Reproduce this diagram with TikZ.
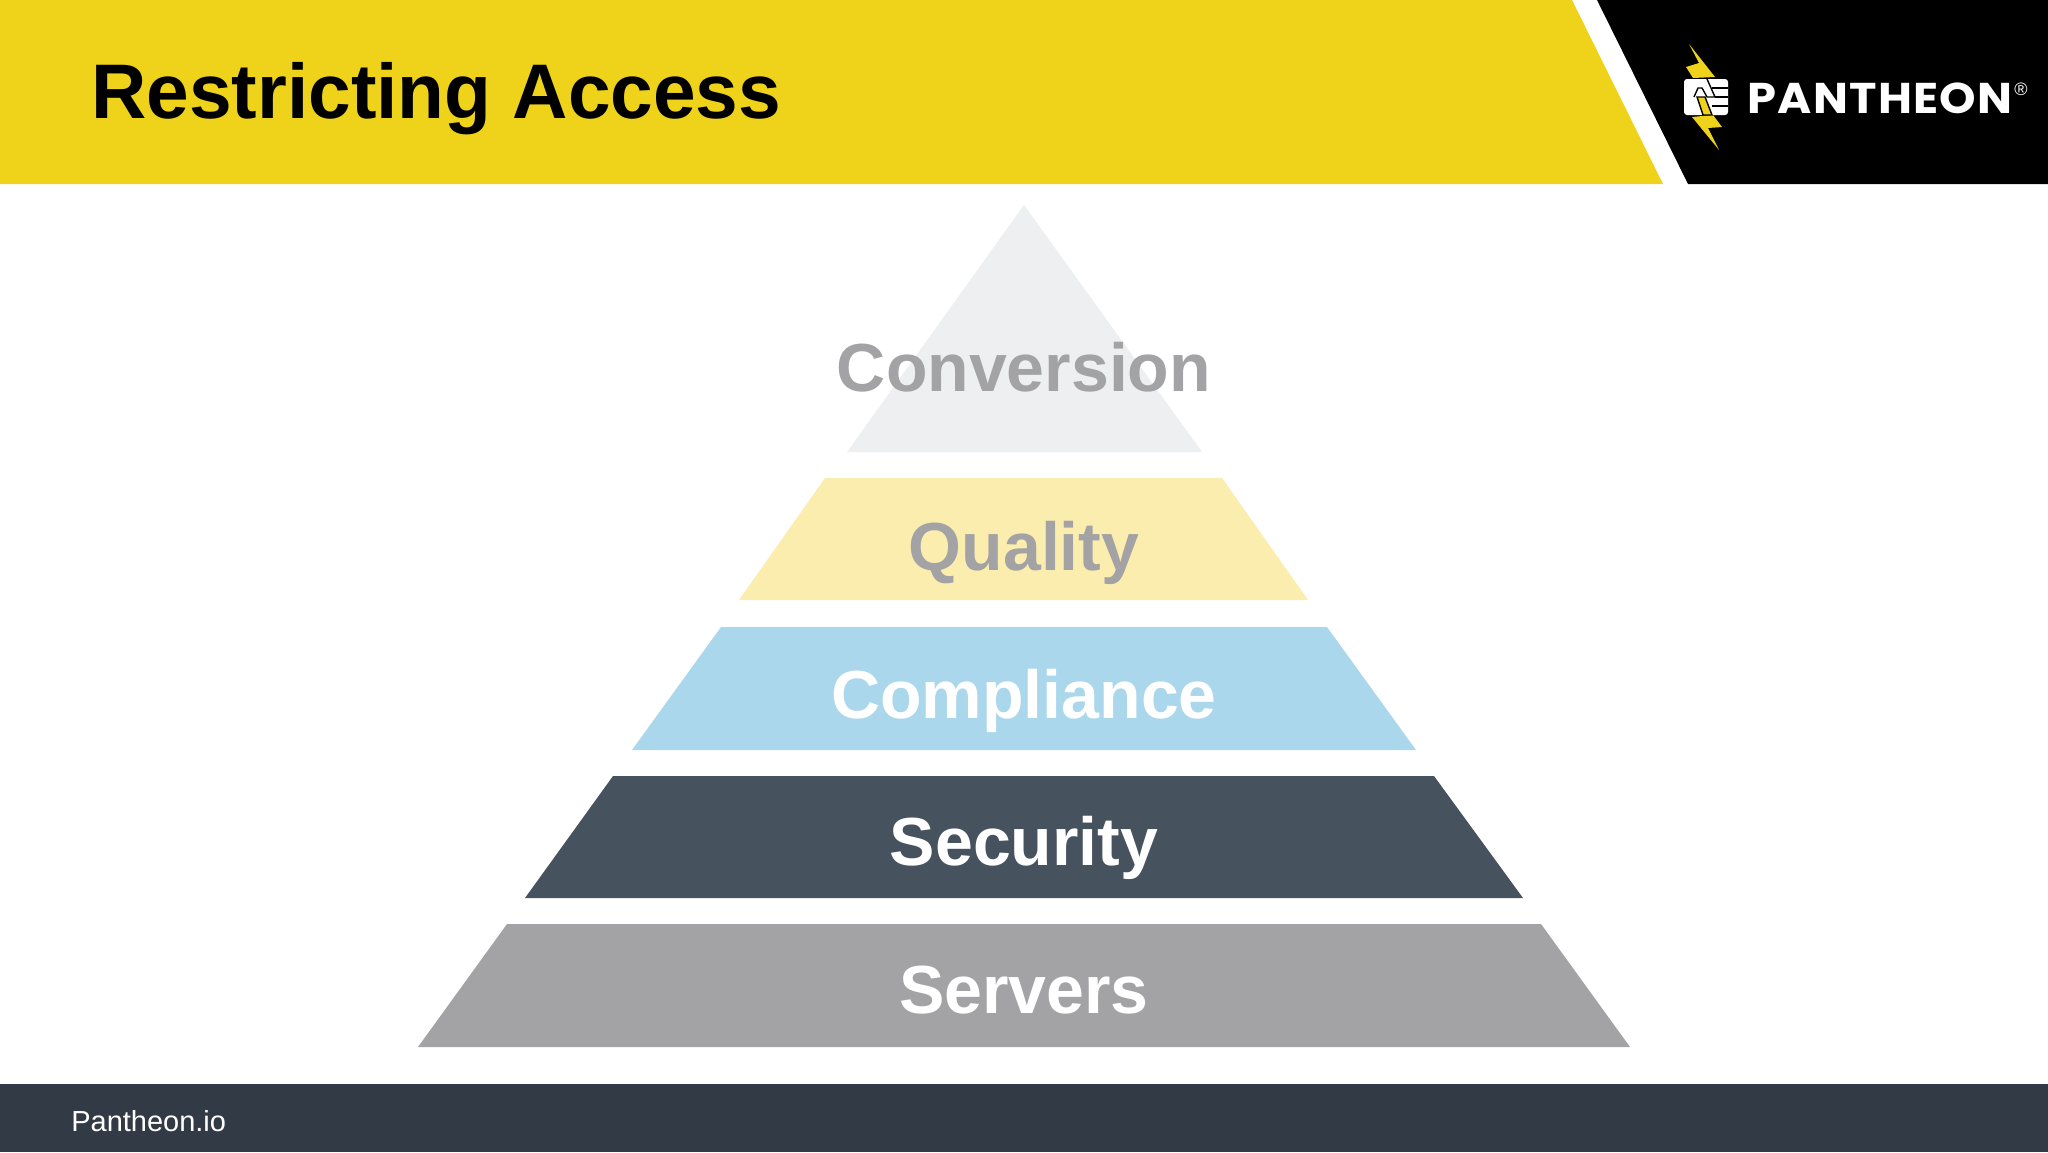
\documentclass[tikz,border=0pt]{standalone}
\usepackage{fontspec}
\setmainfont{Liberation Sans}
\newfontfamily\titlefont[FakeStretch=0.99]{Liberation Sans}
\newfontfamily\logofont[FakeStretch=1.08,LetterSpace=3]{Poppins}
\definecolor{headyellow}{HTML}{EFD31B}
\definecolor{footslate}{HTML}{323A46}
\definecolor{topgrey}{HTML}{EEEFF1}
\definecolor{qualyellow}{HTML}{FAEDAE}
\definecolor{compblue}{HTML}{ABD7EC}
\definecolor{secslate}{HTML}{47525F}
\definecolor{servgrey}{HTML}{A3A3A5}
\tikzset{
	tier/.style={draw=none},
	tierlabel/.style={font=\fontsize{34}{34}\selectfont\bfseries, inner sep=0pt, anchor=base},
	fistpart/.style={fill=white, draw=none, rounded corners=1.5},
	fistline/.style={draw=black, line width=0.7pt},
	boltpart/.style={fill=headyellow, draw=none},
}

\begin{document}
\begin{tikzpicture}[x=0.5pt, y=-0.5pt, line width=.1mm]

		\useasboundingbox (0,0) rectangle (2048,1152);
		\fill[white] (0,0) rectangle (2048,1152);

		% header and footer
		\fill[headyellow] (0,0) -- (1572,0) -- (1663,184) -- (0,184) -- cycle;
		\fill[black] (1597,0) -- (2048,0) -- (2048,184) -- (1688,184) -- cycle;
		\fill[footslate] (0,1084) rectangle (2048,1152);
		\node[anchor=base west, inner sep=0pt, font=\titlefont\fontsize{38.7}{38.7}\selectfont\bfseries] (title) at (91,118) {Restricting Access};
		\node[anchor=base west, inner sep=0pt, white, font=\fontsize{14.5}{14.5}\selectfont] (site) at (71,1131) {Pantheon.io};

		% pyramid
		\fill[tier, topgrey] (1024,205) -- (1202,452) -- (847,452) -- cycle;
		\fill[tier, qualyellow] (825,478) -- (1222,478) -- (1308,600) -- (739,600) -- cycle;
		\fill[tier, compblue] (721,627) -- (1327,627) -- (1416,750) -- (632,750) -- cycle;
		\fill[tier, secslate] (613,776) -- (1434,776) -- (1523,898) -- (525,898) -- cycle;
		\fill[tier, servgrey] (507,924) -- (1541,924) -- (1630,1047) -- (418,1047) -- cycle;

		\node[tierlabel, servgrey] (conversion) at (1024,391) {Conversion};
		\node[tierlabel, servgrey] (quality) at (1024,570) {Quality};
		\node[tierlabel, white] (compliance) at (1024,718) {Compliance};
		\node[tierlabel, white] (security) at (1024,865) {Security};
		\node[tierlabel, white] (servers) at (1024,1013) {Servers};

		% logo
		\node[anchor=base west, inner sep=0pt, white, font=\logofont\fontsize{21.5}{21.5}\selectfont\bfseries] (brand) at (1747,113) {PANTHEON};
		\node[anchor=center, inner sep=0pt, white, font=\fontsize{9}{9}\selectfont] (mark) at (2021,89) {\textregistered};
		\fill[boltpart] (1689,44) -- (1715,77) -- (1693,78) -- (1686,67) -- (1699,63) -- cycle;
		\fill[boltpart] (1692,117) -- (1713,115) -- (1722,127) -- (1708,128) -- (1719,150) -- cycle;
		\fill[fistpart] (1684,79) -- (1728,79) -- (1728,115) -- (1684,115) -- cycle;
		\draw[fistline] (1712,88) -- (1728,88);
		\draw[fistline] (1715,97) -- (1728,97);
		\draw[fistline] (1712,106) -- (1728,106);
		\draw[fistline] (1707,79) -- (1715,97) -- (1707,97) -- (1702,88) -- (1698,88) -- (1694,97);
		\fill[boltpart, fistline] (1697,97) -- (1705,97) -- (1712,115) -- (1703,115) -- cycle;

\end{tikzpicture}
\end{document}
